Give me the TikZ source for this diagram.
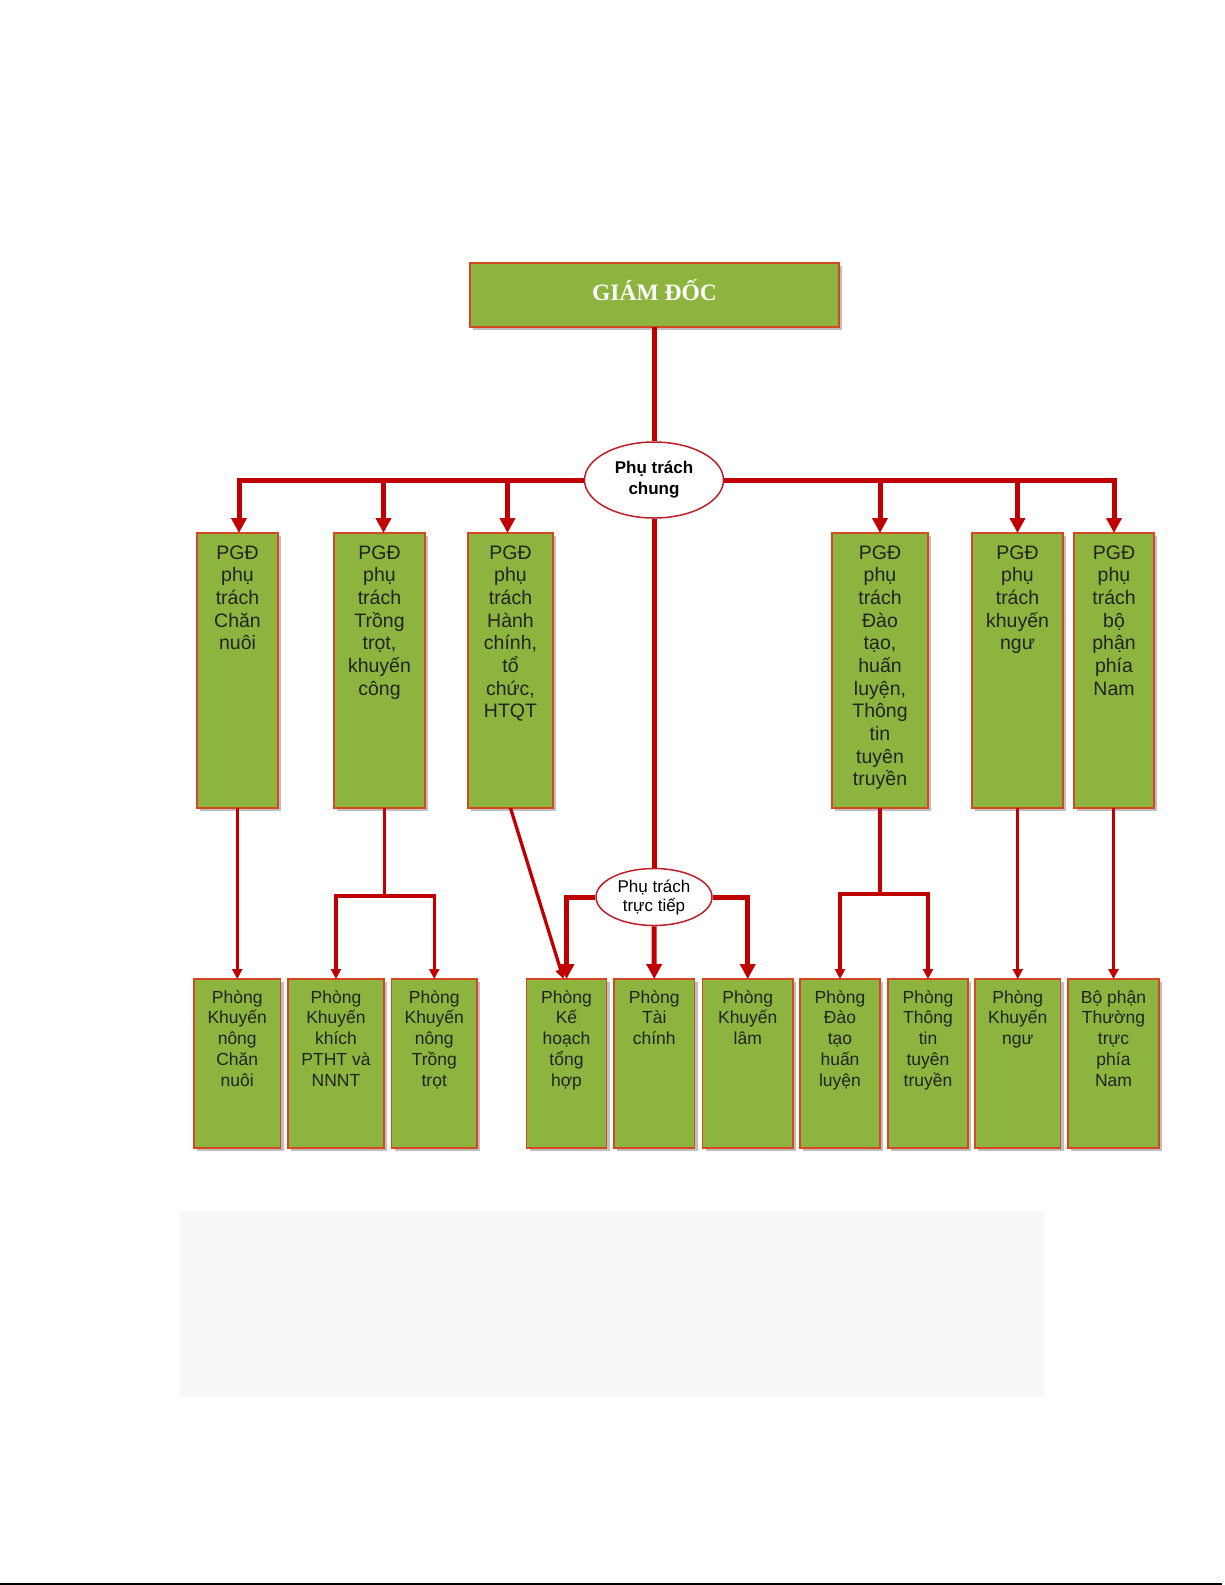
\documentclass[tikz,border=0pt]{standalone}
\usepackage{fontspec}
\newfontfamily\arialf{Liberation Sans}
\newfontfamily\timesf{Liberation Serif}
\usetikzlibrary{arrows.meta,shapes.geometric,shadows,calc}
\definecolor{gfill}{RGB}{141,180,62}
\definecolor{gborder}{RGB}{214,72,36}
\definecolor{lnred}{RGB}{192,0,0}
\definecolor{txt}{RGB}{35,35,35}
\definecolor{elborder}{RGB}{192,30,40}
\definecolor{panel}{RGB}{248,248,248}
\newcommand{\pgdfnt}{\arialf\fontsize{19.5}{22.67}\selectfont}
\newcommand{\phfnt}{\arialf\fontsize{17.5}{20.8}\selectfont}
\newcommand{\mybox}[4]{\parbox[c][#2][t]{#1}{\lineskiplimit=-50pt\lineskip=0pt\centering\rule{0pt}{#3}#4\par}}
\tikzset{
  gbox/.style={draw=gborder, line width=1.5pt, fill=gfill, inner sep=0pt, outer sep=0pt,
    anchor=north west, text=txt,
    drop shadow={shadow xshift=3pt, shadow yshift=-3pt, fill=black!45, opacity=.55}},
  pgdtxt/.style={font=\pgdfnt},
  phtxt/.style={font=\phfnt},
  ell/.style={ellipse, draw=elborder, line width=1.5pt, fill=white, inner sep=0pt, align=center, text=black},
  bigln/.style={draw=lnred, line width=5pt},
  thinln/.style={draw=lnred, line width=3.3pt},
  bigarr/.style={-{Triangle[length=15pt,width=15pt]}},
  smallarr/.style={-{Triangle[length=10pt,width=10pt]}}
}
\begin{document}
\begin{tikzpicture}[x=1pt,y=-1pt]
\useasboundingbox (0,0) rectangle (1225,1585);
\fill[white] (0,0) rectangle (1225,1585);

% director
\node[gbox, minimum width=369pt, minimum height=64pt, text=white,
  font=\timesf\bfseries\fontsize{23.5}{27}\selectfont] (gd) at (470,263) {\smash{\raisebox{-5.5pt}{GIÁM ĐỐC}}};

% ellipses
\node[ell, minimum width=139pt, minimum height=76pt,
  font=\arialf\bfseries\fontsize{17}{21}\selectfont] (e1) at (654,480) {Phụ trách\\chung};
\node[ell, minimum width=116pt, minimum height=57pt,
  font=\arialf\fontsize{17}{19}\selectfont] (e2) at (654,897) {Phụ trách\\trực tiếp};

% deputy directors
\node[gbox, pgdtxt] (p1) at (197,533) {\mybox{81pt}{275pt}{26pt}{PGĐ\\phụ\\trách\\Chăn\\nuôi}};
\node[gbox, pgdtxt] (p2) at (334,533) {\mybox{91pt}{275pt}{26pt}{PGĐ\\phụ\\trách\\Trồng\\trọt,\\khuyến\\công}};
\node[gbox, pgdtxt] (p3) at (468,533) {\mybox{85pt}{275pt}{26pt}{PGĐ\\phụ\\trách\\Hành\\chính,\\tổ\\chức,\\HTQT}};
\node[gbox, pgdtxt] (p4) at (832,533) {\mybox{96pt}{275pt}{26pt}{PGĐ\\phụ\\trách\\Đào\\tạo,\\huấn\\luyện,\\Thông\\tin\\tuyên\\truyền}};
\node[gbox, pgdtxt] (p5) at (972,533) {\mybox{91pt}{275pt}{26pt}{PGĐ\\phụ\\trách\\khuyến\\ngư}};
\node[gbox, pgdtxt] (p6) at (1074,533) {\mybox{80pt}{275pt}{26pt}{PGĐ\\phụ\\trách\\bộ\\phận\\phía\\Nam}};

% departments
\node[gbox, phtxt] (b1) at (194,979) {\mybox{86.5pt}{169pt}{24pt}{Phòng\\Khuyến\\nông\\Chăn\\nuôi}};
\node[gbox, phtxt] (b2) at (288,979) {\mybox{96pt}{169pt}{24pt}{Phòng\\Khuyến\\khích\\PTHT và\\NNNT}};
\node[gbox, phtxt] (b3) at (391.5,979) {\mybox{85.5pt}{169pt}{24pt}{Phòng\\Khuyến\\nông\\Trồng\\trọt}};
\node[gbox, phtxt] (b4) at (526.5,979) {\mybox{80pt}{169pt}{24pt}{Phòng\\Kế\\hoạch\\tổng\\hợp}};
\node[gbox, phtxt] (b5) at (614,979) {\mybox{80.5pt}{169pt}{24pt}{Phòng\\Tài\\chính}};
\node[gbox, phtxt] (b6) at (702.5,979) {\mybox{90.5pt}{169pt}{24pt}{Phòng\\Khuyến\\lâm}};
\node[gbox, phtxt] (b7) at (800,979) {\mybox{80pt}{169pt}{24pt}{Phòng\\Đào\\tạo\\huấn\\luyện}};
\node[gbox, phtxt] (b8) at (888,979) {\mybox{80pt}{169pt}{24pt}{Phòng\\Thông\\tin\\tuyên\\truyền}};
\node[gbox, phtxt] (b9) at (975,979) {\mybox{85.5pt}{169pt}{24pt}{Phòng\\Khuyến\\ngư}};
\node[gbox, phtxt] (b10) at (1068,979) {\mybox{91pt}{169pt}{24pt}{Bộ phận\\Thường\\trực\\phía\\Nam}};

% top connectors
\draw[bigln] (gd.south) -- (gd.south |- e1.north);
\coordinate (a1) at ($(p1.north)+(1.5,0)$);
\coordinate (a2) at ($(p2.north)+(4,0)$);
\coordinate (a3) at ($(p3.north)+(-3,0)$);
\draw[bigln,bigarr] (e1.west) -| (a1);
\draw[bigln,bigarr] (e1.west -| a2) -- (a2);
\draw[bigln,bigarr] (e1.west -| a3) -- (a3);
\draw[bigln,bigarr] (e1.east) -| (p6.north);
\draw[bigln,bigarr] (e1.east -| p4.north) -- (p4.north);
\draw[bigln,bigarr] (e1.east -| p5.north) -- (p5.north);
\draw[bigln] (e1.south) -- (e2.north);

% direct responsibility
\draw[bigln,bigarr] (e2.west) -| (b4.north);
\draw[bigln,bigarr] (e2.south) -- (b5.north);
\draw[bigln,bigarr] (e2.east) -| (b6.north);

% deputy to departments
\draw[thinln,smallarr] (p3.south) -- ($(b4.north)+(-3,0)$);
\draw[thinln,smallarr] (p1.south -| b1.north) -- (b1.north);
\coordinate (j2) at ($(p2.south)+(5,88)$);
\draw[thinln] (p2.south -| j2) -- (j2);
\draw[thinln,smallarr] (j2) -| (b2.north);
\draw[thinln,smallarr] (j2) -| (b3.north);
\coordinate (j4) at ($(p4.south)+(0,86)$);
\draw[thinln] (p4.south) -- (j4);
\draw[thinln,smallarr] (j4) -| (b7.north);
\draw[thinln,smallarr] (j4) -| (b8.north);
\draw[thinln,smallarr] (p5.south -| b9.north) -- (b9.north);
\draw[thinln,smallarr] (p6.south -| b10.north) -- (b10.north);

% grey panel and bottom rule
\fill[panel] (180,1211) rectangle (1043.5,1396.5);
\draw[line width=2pt, black] (0,1583.5) -- (1222,1583.5);
\end{tikzpicture}
\end{document}
